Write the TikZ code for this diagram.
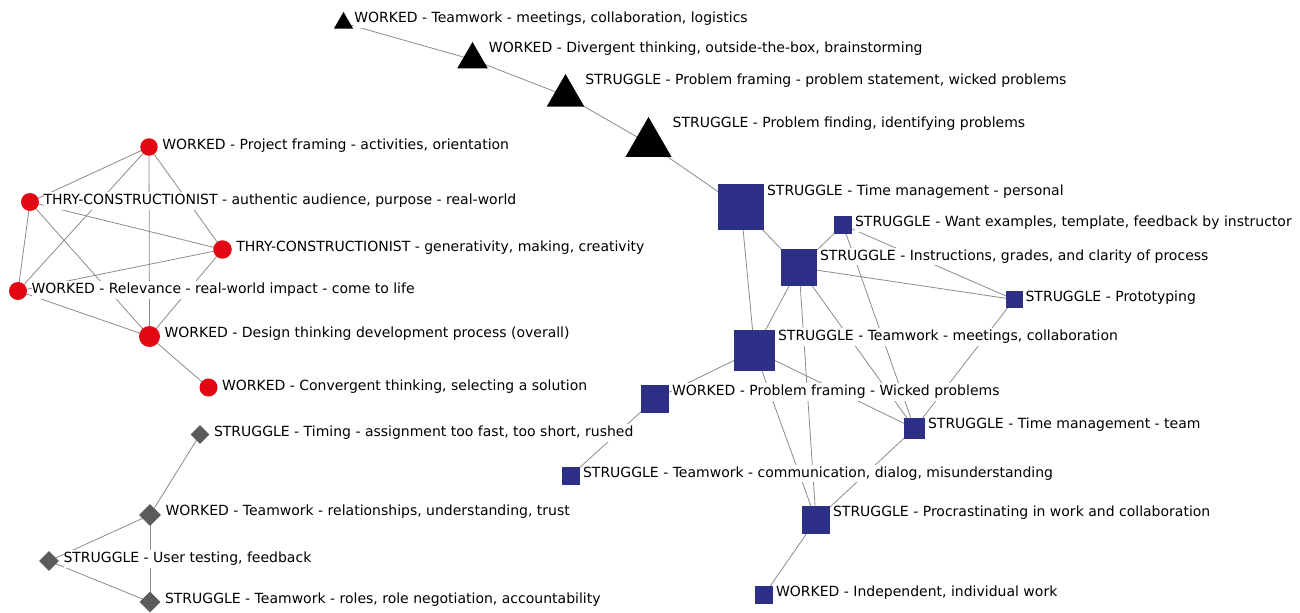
\documentclass[tikz,border=0pt]{standalone}
\usepackage{fontspec}
\setmainfont{DejaVu Sans}
\usetikzlibrary{shapes.geometric,calc}
\definecolor{navy}{RGB}{46,48,135}
\definecolor{nred}{RGB}{227,6,19}
\definecolor{ngrey}{RGB}{90,92,92}
\definecolor{edgegrey}{RGB}{140,140,140}
\pgfdeclarelayer{bg}
\pgfdeclarelayer{edges}
\pgfsetlayers{bg,edges,main}
\tikzset{
  sq/.style={rectangle, fill=navy, inner sep=0pt, minimum size={#1*0.75pt}},
  circ/.style={circle, fill=nred, inner sep=0pt, minimum size={#1*0.75pt}},
  dia/.style={diamond, fill=ngrey, inner sep=0pt, minimum width={#1*0.75pt}, minimum height={#1*0.75pt}},
  tri/.style={regular polygon, regular polygon sides=3, fill=black, inner sep=0pt, minimum size={#1*0.75pt}},
  lbl/.style={anchor=base west, inner xsep=0pt, inner ysep=1.5pt, fill=white, text=black,
              font=\fontsize{10.5}{12}\selectfont, xshift=1.9pt, yshift=-8.4pt},
  lblr/.style={lbl, xshift=1.1pt, yshift=-0.6pt},
  lblt/.style={lbl, xshift=-1.6pt},
  edge/.style={draw=edgegrey, line width=0.6pt}
}
\begin{document}
\begin{tikzpicture}[x=0.75pt,y=-0.75pt]
\begin{pgfonlayer}{bg}
\fill[white] (0,0) rectangle (1300,613);
\end{pgfonlayer}
\useasboundingbox (0,0) rectangle (1300,613);

% triangles
\node[tri=22.3] (t1) at (343.5,23.1) {};
\node[tri=35.3] (t2) at (472.5,59.6) {};
\node[tri=43.3] (t3) at (565.5,95.7) {};
\node[tri=53.2] (t4) at (648.5,143.6) {};
\node[lblt] (lt1) at (t1.corner 3 |- t1.corner 1) {WORKED - Teamwork - meetings, collaboration, logistics};
\node[lblt] (lt2) at (t2.corner 3 |- t2.corner 1) {WORKED - Divergent thinking, outside-the-box, brainstorming};
\node[lblt] (lt3) at (t3.corner 3 |- t3.corner 1) {STRUGGLE - Problem framing - problem statement, wicked problems};
\node[lblt] (lt4) at (t4.corner 3 |- t4.corner 1) {STRUGGLE - Problem finding, identifying problems};

% red circles
\node[circ=17.5] (r1) at (149,147) {};
\node[circ=18] (r2) at (30,202) {};
\node[circ=18.5] (r3) at (222.5,249.5) {};
\node[circ=18] (r4) at (18,291) {};
\node[circ=21] (r5) at (149.5,336.5) {};
\node[circ=18] (r6) at (208.5,387.5) {};
\node[lblr] (lr1) at (r1.east |- r1.north) {WORKED - Project framing - activities, orientation};
\node[lblr] (lr2) at (r2.east |- r2.north) {THRY-CONSTRUCTIONIST - authentic audience, purpose - real-world};
\node[lblr] (lr3) at (r3.east |- r3.north) {THRY-CONSTRUCTIONIST - generativity, making, creativity};
\node[lblr] (lr4) at (r4.east |- r4.north) {WORKED - Relevance - real-world impact - come to life};
\node[lblr] (lr5) at (r5.east |- r5.north) {WORKED - Design thinking development process (overall)};
\node[lblr] (lr6) at (r6.east |- r6.north) {WORKED - Convergent thinking, selecting a solution};

% grey diamonds
\node[dia=19] (d1) at (200,434.5) {};
\node[dia=22] (d2) at (150,515) {};
\node[dia=20] (d3) at (49,561) {};
\node[dia=21] (d4) at (150,602) {};
\node[lblr] (ld1) at (d1.east |- d1.north) {STRUGGLE - Timing - assignment too fast, too short, rushed};
\node[lblr] (ld2) at (d2.east |- d2.north) {WORKED - Teamwork - relationships, understanding, trust};
\node[lblr] (ld3) at (d3.east |- d3.north) {STRUGGLE - User testing, feedback};
\node[lblr] (ld4) at (d4.east |- d4.north) {STRUGGLE - Teamwork - roles, role negotiation, accountability};

% navy squares
\node[sq=46] (s1) at (741,207.5) {};
\node[sq=18] (s2) at (843,225) {};
\node[sq=36] (s3) at (799,267.5) {};
\node[sq=17] (s4) at (1014,299.5) {};
\node[sq=41] (s5) at (754.5,350.5) {};
\node[sq=28] (s6) at (655,399) {};
\node[sq=21] (s7) at (914.5,428.5) {};
\node[sq=18] (s8) at (571,475.5) {};
\node[sq=28] (s9) at (816,520) {};
\node[sq=18] (s10) at (764,595) {};
\node[lbl] (ls1) at (s1.north east) {STRUGGLE - Time management - personal};
\node[lbl] (ls2) at (s2.north east) {STRUGGLE - Want examples, template, feedback by instructor};
\node[lbl] (ls3) at (s3.north east) {STRUGGLE - Instructions, grades, and clarity of process};
\node[lbl] (ls4) at (s4.north east) {STRUGGLE - Prototyping};
\node[lbl] (ls5) at (s5.north east) {STRUGGLE - Teamwork - meetings, collaboration};
\node[lbl] (ls6) at (s6.north east) {WORKED - Problem framing - Wicked problems};
\node[lbl] (ls7) at (s7.north east) {STRUGGLE - Time management - team};
\node[lbl] (ls8) at (s8.north east) {STRUGGLE - Teamwork - communication, dialog, misunderstanding};
\node[lbl] (ls9) at (s9.north east) {STRUGGLE - Procrastinating in work and collaboration};
\node[lbl] (ls10) at (s10.north east) {WORKED - Independent, individual work};

\begin{pgfonlayer}{edges}
\draw[edge] (t1.center) -- (t2.center) -- (t3.center) -- (t4.center) -- (s1.center);
\foreach \a/\b in {r1/r2,r1/r3,r1/r4,r1/r5,r2/r3,r2/r4,r2/r5,r3/r4,r3/r5,r4/r5,r5/r6,
  d1/d2,d2/d3,d2/d4,d3/d4,
  s1/s3,s1/s5,s2/s3,s2/s4,s2/s7,s3/s4,s3/s5,s3/s7,s3/s9,s4/s7,s5/s6,s5/s7,s5/s9,s6/s8,s7/s9,s9/s10}
  \draw[edge] (\a.center) -- (\b.center);
\end{pgfonlayer}
\end{tikzpicture}
\end{document}
